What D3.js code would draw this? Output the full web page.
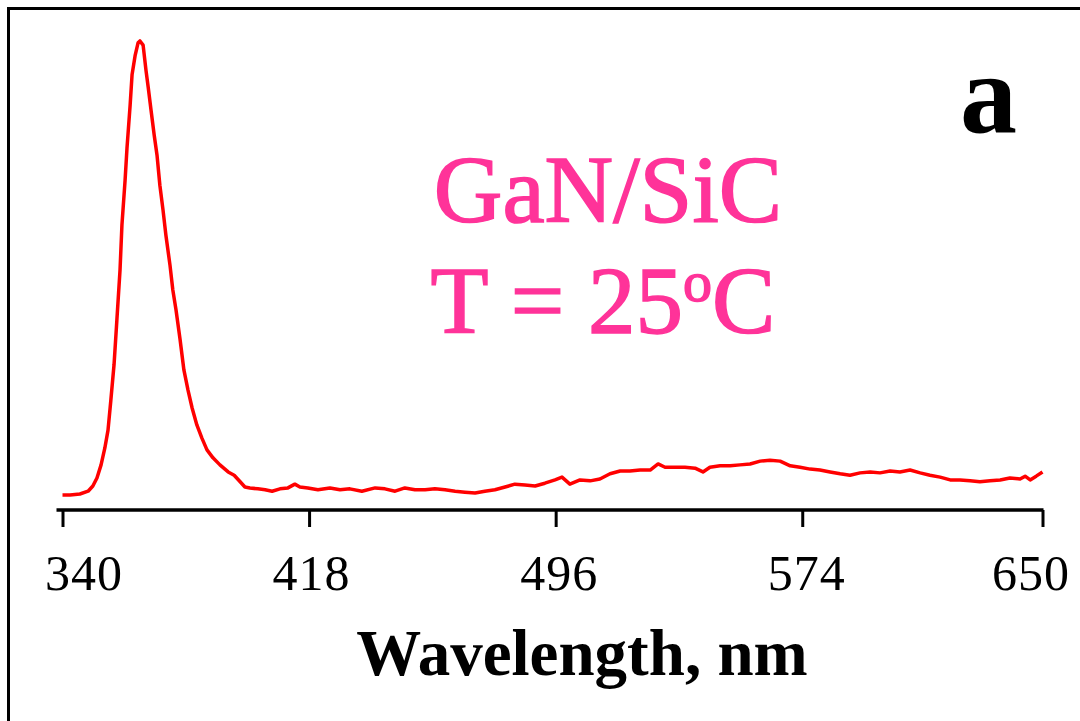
<!DOCTYPE html>
<html>
<head>
<meta charset="utf-8">
<script src="https://cdn.jsdelivr.net/npm/d3@7"></script>
<style>
  html, body { margin: 0; padding: 0; background: #fff; }
  svg { display: block; }
</style>
</head>
<body>
<svg id="chart" width="1080" height="721"></svg>
<script>
// ---- data ----
const wavelength = [340.0,342.4,345.5,348.1,349.6,350.9,352.2,353.4,354.4,355.3,356.3,357.2,358.2,358.8,359.8,360.4,361.4,362.0,363.0,363.9,364.5,365.5,366.4,367.1,368.0,369.0,369.9,370.8,371.8,372.7,374.0,374.9,375.9,377.2,378.4,379.7,381.0,382.5,384.1,385.7,387.6,389.8,392.4,394.3,396.2,397.7,399.3,401.8,404.1,406.3,408.8,411.3,413.5,415.1,417.6,420.8,424.6,427.8,430.9,434.7,438.9,442.0,445.2,448.3,451.5,454.7,457.8,461.0,464.2,467.3,470.5,473.6,476.8,480.0,483.1,486.3,489.5,492.6,495.8,498.0,500.5,503.7,506.9,510.0,513.2,516.4,519.5,522.7,525.9,528.4,530.6,533.8,536.9,540.1,542.6,544.8,548.0,551.2,554.3,557.5,560.7,563.8,567.0,570.2,573.3,576.5,579.6,582.8,586.0,589.1,592.3,595.5,598.6,601.8,604.9,608.1,611.3,614.4,617.6,620.8,623.9,627.1,630.2,633.4,636.6,639.7,642.9,644.5,646.1,648.0,650.0];
const intensity = [3.2,3.2,3.4,4.0,5.1,6.8,9.6,13.2,17.0,23.4,30.9,40.4,51.1,60.6,70.2,77.0,86.2,92.6,96.8,99.4,99.8,98.9,93.6,90.0,85.1,79.8,75.5,69.1,63.8,58.5,52.1,46.8,42.6,36.2,29.8,25.5,21.7,18.1,15.3,12.8,11.1,9.6,8.1,7.4,6.0,4.9,4.7,4.5,4.3,4.0,4.5,4.7,5.5,4.9,4.7,4.3,4.7,4.3,4.5,4.0,4.7,4.5,4.0,4.7,4.3,4.3,4.5,4.3,4.0,3.8,3.6,4.0,4.3,4.9,5.5,5.3,5.1,5.7,6.4,7.0,5.5,6.4,6.2,6.6,7.7,8.3,8.3,8.5,8.5,9.8,9.1,9.1,9.1,8.9,8.1,9.1,9.4,9.4,9.6,9.8,10.4,10.6,10.4,9.4,9.1,8.7,8.5,8.1,7.7,7.4,7.9,8.1,7.9,8.3,8.1,8.5,7.9,7.4,7.0,6.4,6.4,6.2,6.0,6.2,6.4,6.8,6.6,7.2,6.4,7.2,8.1];
const xTicks = [340, 418, 496, 574, 650];
const xDomain = [340, 650];
const yDomain = [0, 100];
const xTitle = "Wavelength, nm";
const panelLabel = "a";
const sampleLine1 = "GaN/SiC";
const sampleLine2 = ["T = 25", "o", "C"];

// ---- drawing ----
const svg = d3.select("#chart");
const serif = "'Liberation Serif', 'Times New Roman', serif";

// frame
svg.append("rect")
  .attr("x", 8.5).attr("y", 8.5)
  .attr("width", 1100).attr("height", 760)
  .attr("fill", "none").attr("stroke", "#000").attr("stroke-width", 3);

const x = d3.scaleLinear().domain(xDomain).range([62.5, 1042.5]);
const y = d3.scaleLinear().domain(yDomain).range([510, 40]);

const data = wavelength.map((w, i) => ({w, v: intensity[i]}));

// spectrum
svg.append("path")
  .datum(data)
  .attr("fill", "none")
  .attr("stroke", "#ff0000")
  .attr("stroke-width", 3.5)
  .attr("stroke-linejoin", "round")
  .attr("d", d3.line().x(d => x(d.w)).y(d => y(d.v)));

// x axis
const axisG = svg.append("g").attr("transform", "translate(0,510)");
axisG.call(d3.axisBottom(x).tickValues(xTicks).tickSize(17).tickSizeOuter(0).tickFormat(d3.format("d")));
axisG.select(".domain")
  .attr("d", `M${x(xDomain[0]) - 6},0H${x(xDomain[1]) + 1}`)
  .attr("stroke", "#000").attr("stroke-width", 3.5);
axisG.selectAll(".tick line").attr("stroke", "#000").attr("stroke-width", 3);
const labelShift = [21, 2, 3, 4, -12];
axisG.selectAll(".tick text")
  .attr("font-family", serif)
  .attr("font-size", 50)
  .attr("letter-spacing", 1)
  .attr("fill", "#000")
  .attr("y", 80)
  .attr("dy", 0)
  .attr("dx", (d, i) => labelShift[i]);

// axis title
svg.append("text")
  .attr("x", 582).attr("y", 675)
  .attr("text-anchor", "middle")
  .attr("font-family", serif)
  .attr("font-weight", "bold")
  .attr("font-size", 65)
  .attr("fill", "#000")
  .text(xTitle);

// panel label
svg.append("text")
  .attr("x", 960).attr("y", 132)
  .attr("font-family", serif)
  .attr("font-weight", "bold")
  .attr("font-size", 114)
  .attr("fill", "#000")
  .text(panelLabel);

// sample annotation
const pink = "#ff3399";
svg.append("text")
  .attr("x", 608).attr("y", 222)
  .attr("text-anchor", "middle")
  .attr("font-family", serif)
  .attr("font-size", 95)
  .attr("fill", pink)
  .attr("stroke", pink).attr("stroke-width", 1.5)
  .text(sampleLine1);

const t2 = svg.append("text")
  .attr("x", 603).attr("y", 333)
  .attr("text-anchor", "middle")
  .attr("font-family", serif)
  .attr("font-size", 95)
  .attr("fill", pink)
  .attr("stroke", pink).attr("stroke-width", 1.5);
t2.append("tspan").text(sampleLine2[0]);
t2.append("tspan").attr("font-size", 58).attr("dy", -32).text(sampleLine2[1]);
t2.append("tspan").attr("dy", 32).text(sampleLine2[2]);
</script>
</body>
</html>
